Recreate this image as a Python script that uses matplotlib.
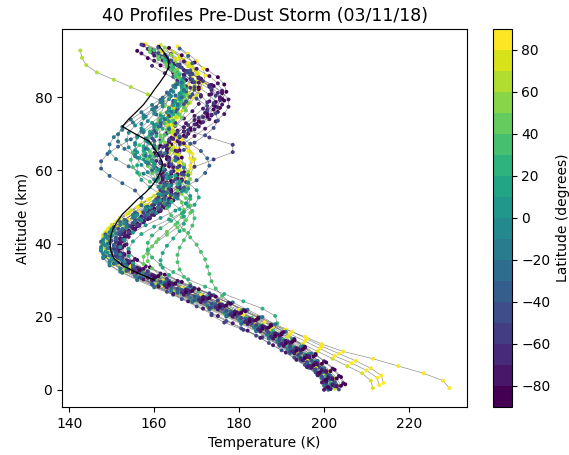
import numpy as np
import matplotlib
matplotlib.use("Agg")
import matplotlib.pyplot as plt
from matplotlib.colors import Normalize

# latitude of each retrieved profile (degrees)
latitudes = [88, 84, 81, 78, 75, 72,
             63, 55,
             48, 42, 36, 30, 24,
             18, 13, 8, 3, -2,
             -7, -12, -17, -22, -27, -32,
             -38, -42, -46, -50, -54, -58,
             -67, -70, -72, -74, -76, -78, -80, -82, -84, -86]

# altitude of the lowest retrieved level of each profile (km)
bottom_alt = [0.5, 1.9, 1.3, 0.5, 1.1, 0.3,
              0.8, 1.6,
              0.4, 1.2, 0.9, 1.7, 0.2,
              1.4, 0.6, 1.8, 1.0, 0.3,
              1.5, 0.7, 1.1, 0.0, 1.9, 0.5,
              1.3, 0.8, 0.1, 1.6, 1.0, 0.4,
              1.2, 0.6, 1.8, 0.2, 1.4, 0.9, 0.0, 1.5, 0.7, 1.1]

# temperature (K) every 2 km upwards from the lowest level, one list per profile
temps = [
    # yellow, northern
    [229.5, 228, 223.5, 217.5, 211.5, 204.5, 199.5, 195.5, 191, 186, 181, 176, 171, 166.5, 162, 158,
     154.5, 151.5, 149.5, 148.5, 148.5, 149.5, 151.5, 154, 156.5, 159, 161.5, 164, 166, 167.5, 168.5,
     169, 169, 168, 166.5, 165, 164, 164, 165, 166.5, 168.5, 170, 171, 170.5, 168.5, 165.5, 162, 158],
    [214, 213.5, 211, 207.5, 203.5, 199.5, 196, 192.5, 188.5, 184.5, 180, 175.5, 171, 166.5, 162, 158,
     154.5, 151.5, 149.5, 148, 148, 149, 151, 153.5, 156, 158.5, 161, 163, 164.5, 165.5, 166,
     166, 165.5, 165, 164.5, 164.5, 165, 166, 167.5, 169, 170.5, 171.5, 172, 171.5, 170, 168, 165.5],
    [213, 212.5, 210, 206.5, 202.5, 199, 195.5, 192, 188, 184, 179.5, 175, 170.5, 166, 161.5, 157.5,
     154, 151, 149, 148, 148, 149.5, 152, 155, 158, 161, 163.5, 165.5, 167, 168, 168.5,
     168.5, 168, 167, 165.5, 164, 163, 163, 163.5, 165, 166.5, 168, 169, 169, 168, 166, 163.5],
    [211.5, 211, 209, 205.5, 202, 198.5, 195, 191.5, 187.5, 183.5, 179, 174.5, 170, 165.5, 161, 157,
     153.5, 150.5, 148.5, 147.5, 147.5, 148.5, 150.5, 153, 155.5, 158, 160.5, 162.5, 164, 165, 165.5,
     165.5, 165, 164.5, 164, 164, 164.5, 165.5, 167, 168.5, 170, 171, 171, 170, 168, 165, 161.5, 157.5],
    [203.5, 202.5, 201, 199, 197, 194.5, 192, 189, 186, 182.5, 178.5, 174.5, 170.5, 166, 161.5, 157.5,
     154, 151, 149, 148, 148, 148.5, 150, 152, 154.5, 157, 160, 163, 166, 168.5, 169.5,
     169.5, 168.5, 167, 165.5, 164, 163.5, 163.5, 164.5, 166, 168, 169.5, 170.5, 170, 168.5, 166],
    [202.5, 201.5, 200, 198, 196, 193.5, 191, 188, 185, 181.5, 177.5, 173.5, 169.5, 165, 160.5, 156.5,
     153, 150.5, 148.5, 147.5, 147.5, 148, 149.5, 151.5, 154, 156.5, 159, 161.5, 163.5, 165, 166,
     166, 165.5, 164.5, 163.5, 163, 163, 163.5, 164.5, 166, 167.5, 169, 170, 170, 169, 167, 164.5, 161.5],
    # light green
    [201, 200, 198.5, 196.5, 194.5, 192, 189.5, 187, 184, 180.5, 176.5, 172.5, 168.5, 164.5, 160.5, 156.5,
     153, 150.5, 149, 148.5, 149, 150.5, 153, 156, 159, 162, 164.5, 166, 166.5, 166, 165,
     164, 163.5, 163.5, 164, 164.5, 165, 165, 164, 162, 158.5, 154.5, 150.5, 146.5, 144, 143, 142.6],
    [202, 201, 199.5, 197.5, 195.5, 193, 190.5, 188, 185, 181.5, 178, 174, 170, 166, 162, 158,
     155, 152.5, 151, 150.5, 151, 152.5, 155, 158, 161, 164, 166.5, 168, 168.5, 168, 167,
     165.5, 164, 162.5, 161.5, 161, 161, 161.5, 162.5, 163.5, 164.5, 165, 165.5, 165.5, 165, 164, 162.5],
    # green
    [201.5, 200.5, 199, 197, 195, 192.5, 190, 187.5, 184.5, 181, 177.5, 173.5, 169.5, 166, 163, 160.5,
     158.5, 157.5, 157.5, 158.5, 160.5, 163, 165.5, 167.5, 168.5, 168.5, 167.5, 165.5, 163, 161, 159.5,
     159, 159.5, 160.5, 162, 163.5, 165, 166.5, 167.5, 168, 168, 167.5, 166.5, 165, 163, 161, 159],
    [202.5, 201.5, 200, 198, 196, 194, 191.5, 189, 186, 183, 179.5, 176, 172, 168, 164.5, 161.5,
     159.5, 158.5, 158.5, 159.5, 161, 163, 165, 166.5, 167, 166.5, 165, 163, 161, 159.5, 158.5,
     158.5, 159, 160, 161.5, 163, 164.5, 166, 167, 167.5, 167.5, 167, 166, 164.5, 163, 161, 159],
    [201, 200, 198.5, 196.5, 194.5, 192.5, 190, 187.5, 185, 182, 179, 176, 173, 170.5, 168.5, 167,
     166, 165.5, 165.5, 166, 167, 168, 169, 169.5, 169, 167.5, 165, 162, 159, 156.5, 155,
     154.5, 155, 156.5, 158.5, 160.5, 162.5, 164, 165.5, 166.5, 167, 167, 166.5, 165.5, 164, 162, 160],
    [202, 201, 199.5, 197.5, 195.5, 193, 190.5, 188, 185.5, 183, 180.5, 178, 176, 174.5, 173.5, 173,
     172.5, 172, 171, 170, 168.5, 167, 165.5, 164, 163, 162.5, 162, 161.5, 161, 160.5, 160,
     160, 160.5, 161.5, 162.5, 163.5, 164.5, 165.5, 166, 166.5, 166.5, 166, 165, 164, 162.5, 161],
    [201.5, 200.5, 199, 197, 195, 193, 191, 189, 188, 189, 188.5, 185.5, 181, 176.5, 172, 168,
     164.5, 161.5, 159.5, 158.5, 158.5, 159.5, 161.5, 164, 166.5, 168, 168.5, 167.5, 165.5, 163, 160.5,
     158.5, 157.5, 157.5, 158, 159.5, 161, 163, 164.5, 166, 167, 167.5, 167, 166, 164.5, 162.5],
    # teal-green, equatorial
    [202, 201, 199.5, 197.5, 195.5, 193, 190.5, 188, 185, 182, 179, 176, 172.5, 169, 166, 163.5,
     162, 161.5, 162, 163, 164.5, 166, 167, 167, 166, 164, 161.5, 159, 157, 156, 156,
     156.5, 157.5, 159, 160.5, 162, 163.5, 164.5, 165.5, 166, 166.5, 166.5],
    [200.5, 200, 198.5, 196.5, 194.5, 192, 189.5, 187, 184, 180.5, 177, 173.5, 170, 166.5, 163, 160,
     157, 155, 154, 154, 155, 157, 160, 163.5, 167, 169.5, 170.5, 170, 168, 165, 162,
     159.5, 158, 157.5, 158, 159, 160.5, 162, 163.5, 165, 166, 166.5, 166.5],
    [201.5, 200.5, 199.5, 198, 196.5, 194.5, 192.5, 190.5, 188, 185, 181.5, 177.5, 173, 168, 163, 158,
     153, 150, 148.5, 148, 148.5, 150, 153, 156, 159, 161.5, 163, 163.5, 163, 161.5, 160,
     159, 158.5, 158.5, 159, 160, 161.5, 163, 164.5, 166, 167],
    [202.5, 201.5, 200, 198, 196, 193.5, 191, 188.5, 185.5, 182, 178.5, 174.5, 170.5, 166.5, 162, 158,
     155, 153, 152, 152, 153, 155, 158, 161.5, 165, 167.5, 168.5, 168, 166, 163, 160,
     157.5, 156, 155.5, 156, 157.5, 159.5, 161.5, 163.5, 165, 166, 166.5],
    [201, 200, 198.5, 196.5, 194.5, 192, 189.5, 187, 184, 180.5, 177, 173, 169, 164.5, 160, 156,
     152, 149.5, 148, 147.5, 148, 150, 153.5, 157, 160.5, 163.5, 165.5, 166.5, 166, 164, 161,
     158, 155.5, 154, 153.5, 154, 155.5, 157.5, 160, 162, 164],
    # teal-blue
    [202, 201, 199.5, 197.5, 195.5, 193, 190.5, 188, 185, 181.5, 178, 174, 170, 166, 161.5, 157.5,
     153.5, 150.5, 149, 148.5, 149, 150.5, 153, 155.5, 158, 160, 161, 161, 160, 158.5, 157,
     156, 155.5, 155.5, 156, 157, 158.5, 160, 162, 163.5, 164.5],
    [201.5, 201, 199.5, 197.5, 195.5, 193, 190.5, 188, 185, 181.5, 178, 174, 170, 165.5, 161, 157,
     153.5, 151, 149.5, 149, 149.5, 151, 153.5, 156.5, 159.5, 162.5, 165, 167, 168, 168, 167,
     165, 162.5, 160, 158, 157, 157, 158, 159.5, 161.5, 163.5, 165],
    [200, 199.5, 198, 196, 194, 191.5, 189, 186.5, 183.5, 180, 176.5, 172.5, 168.5, 164, 159.5, 155.5,
     152, 149.5, 148, 147.5, 148, 149.5, 152, 155, 158, 160.5, 162, 162, 160.5, 157.5, 154,
     151, 149.5, 149.5, 150.5, 152.5, 155, 157.5, 160, 162, 163.5, 164.5],
    [201, 200, 198.5, 196.5, 194.5, 192, 189.5, 187, 184, 180.5, 177, 173, 169, 164.5, 160, 156,
     152.5, 149.5, 148, 147.5, 148, 149.5, 152.5, 155.5, 158.5, 161, 162.5, 163, 162.5, 161, 159.5,
     158.5, 158, 158, 158.5, 159.5, 161, 162.5, 164, 165.5, 166.5, 167, 166.5],
    [202.5, 201.5, 200, 198.5, 197, 195, 193, 191, 188.5, 185.5, 182, 178.5, 174, 169, 163.5, 158.5,
     155, 152, 150, 149, 149, 150, 152, 155, 158, 161, 163, 164, 163.5, 161.5, 158.5,
     155.5, 153, 151.5, 151.5, 152.5, 154.5, 157, 159.5, 162, 164, 165.5],
    [201.5, 200.5, 199, 197, 195, 192.5, 190, 187.5, 184.5, 181, 177.5, 173.5, 169.5, 165.5, 161, 157,
     153.5, 150.5, 148.5, 147.5, 147.5, 148.5, 150.5, 153, 155.5, 157, 157, 155.5, 152.5, 149.5, 147.5,
     147.5, 149, 151.5, 154.5, 157.5, 160, 162, 163.5, 164.5, 165],
    # navy
    [202, 201, 199.5, 197.5, 195.5, 193, 190.5, 188, 185, 181.5, 178, 174.5, 170.5, 166.5, 162.5, 158.5,
     155, 152.5, 151, 150.5, 151, 152, 153.5, 155.5, 158, 161, 164, 167, 170, 172, 173,
     172.5, 171, 168.5, 166, 163.5, 161.5, 160.5, 160.5, 161.5, 163, 165, 167, 168.5, 169, 168, 166],
    [201, 200, 198, 195.5, 193, 190, 187, 184, 180.5, 177, 173.5, 170, 166.5, 163, 159.5, 156.5,
     154, 151.5, 150, 149.5, 150, 151.5, 154, 157, 160, 163, 165.5, 167, 167.5, 167, 165.5,
     163.5, 161.5, 160, 159.5, 160, 161.5, 163.5, 165.5, 167.5, 169, 169.5, 169, 167.5, 165.5, 163],
    [203.5, 202.5, 201, 199, 197, 194.5, 192, 189.5, 186.5, 183, 179.5, 176, 172, 168, 164, 160,
     156.5, 153.5, 151.5, 150, 149.5, 150, 151.5, 153.5, 156, 158.5, 160.5, 162, 163, 163, 162.5,
     161.5, 160.5, 160, 160, 160.5, 161.5, 163, 165, 167, 168.5, 169.5, 169.5, 168.5, 166.5, 164, 161],
    [200.5, 199.5, 198, 196, 194, 192, 189.5, 187, 184, 180.5, 177, 173.5, 169.5, 165.5, 161.5, 158,
     155, 152.5, 151, 150.5, 151, 152.5, 155, 158, 161, 163.5, 165, 165.5, 165, 164, 164,
     165, 167, 169.5, 172, 174, 175, 174.5, 172.5, 170, 167.5, 165.5, 164.5, 164, 163.5, 162.5, 161],
    [202.5, 201.5, 200, 198, 196, 193.5, 191, 188.5, 185.5, 182, 178.5, 175, 171, 167, 163, 159,
     155.5, 153, 151.5, 151.5, 152.5, 154, 156, 158, 160, 161.5, 162.5, 163.5, 164.5, 166.5, 169.5,
     174, 178.5, 178.5, 173, 168, 165, 163.5, 163.5, 164.5, 166, 167.5, 168.5, 168, 166, 163],
    [201.5, 200.5, 199, 197, 194.5, 192, 189.5, 185.5, 181, 176.5, 173.5, 173, 175, 173, 168.5, 163,
     158.5, 155, 152.5, 151, 151, 152, 153.5, 155.5, 157.5, 159.5, 161, 162, 162.5, 162.5, 162,
     161.5, 161.5, 162, 163.5, 165.5, 168, 170.5, 172.5, 174, 174.5, 173.5, 171.5, 169, 166, 163, 160, 157],
    # purple, southern
    [203, 202, 200.5, 198.5, 196.5, 194, 191.5, 189, 186, 183, 179.5, 176, 172, 168, 164, 160,
     156.5, 154, 152.5, 152, 152.5, 154, 156.5, 159, 161.5, 163.5, 165, 166, 166.5, 166.5, 166,
     165.5, 165.5, 166, 167.5, 169.5, 171.5, 173.5, 175, 175.5, 175, 173, 170.5, 167.5, 164.5, 161.5, 158.5],
    [200.5, 200, 198.5, 196.5, 194.5, 192.5, 190, 187.5, 184.5, 181.5, 178, 174.5, 170.5, 166.5, 162.5, 158.5,
     155, 152.5, 151, 150.5, 151, 152.5, 154.5, 156.5, 158.5, 160, 161, 161.5, 161.5, 161, 160.5,
     160.5, 161, 162.5, 164.5, 167, 169.5, 171.5, 172.5, 172.5, 171, 168.5, 165.5, 162.5, 159.5],
    [204.5, 203.5, 202, 200, 198, 195.5, 193, 190.5, 187.5, 184.5, 181, 177.5, 173.5, 169.5, 165.5, 161.5,
     158, 155.5, 154, 153.5, 154, 155.5, 157.5, 160, 162.5, 164.5, 165.5, 166, 165.5, 164.5, 163.5,
     163, 163, 163.5, 165, 167, 169.5, 172, 174, 175.5, 176, 175, 173, 170, 167, 164, 161],
    [201.5, 200.5, 198.5, 196, 193.5, 191, 188, 185, 182, 178.5, 175, 171.5, 168, 164.5, 161, 157.5,
     155, 153, 151.5, 151, 151.5, 153, 155, 157.5, 160, 162, 163.5, 164, 164, 163.5, 162.5,
     161.5, 161, 161, 161.5, 163, 165, 167, 169, 170.5, 171, 170.5, 169, 167, 164.5, 162, 159.5, 157.5],
    [202, 201, 199.5, 198, 196, 193.5, 191, 188.5, 185.5, 182.5, 179, 175.5, 171.5, 167.5, 163.5, 159.5,
     156, 153.5, 152, 151.5, 152, 153, 155, 157, 159, 160.5, 161.5, 162, 162, 162, 162.5,
     163.5, 165, 167, 169.5, 172, 174.5, 176.5, 177.5, 177.5, 176, 173.5, 170.5, 167, 163.5, 160],
    [203, 202, 200.5, 198.5, 196.5, 194.5, 192, 189.5, 186.5, 183.5, 180, 176.5, 172.5, 168.5, 164.5, 160.5,
     157, 154.5, 153, 152.5, 153, 154.5, 156.5, 159, 161.5, 163.5, 165, 166, 166, 165.5, 164.5,
     163.5, 163, 163, 164, 165.5, 167.5, 169.5, 171.5, 173, 173.5, 173, 171, 168.5, 165.5, 162.5, 159.5],
    [200, 199.5, 198.5, 197, 195, 193, 190.5, 188, 185, 182, 178.5, 175, 171, 167, 163, 159.5,
     156, 153.5, 152, 151.5, 152, 153.5, 155.5, 157.5, 159.5, 161, 162, 162.5, 162.5, 162, 161.5,
     161.5, 162, 163.5, 165.5, 168, 170.5, 173, 175, 176, 175.5, 173.5, 170.5, 167, 163.5, 160, 157],
    [205, 204, 202.5, 200.5, 198, 195.5, 193, 190, 187.5, 184.5, 181.5, 178, 174.5, 170.5, 166.5, 162.5,
     159, 156, 154, 153, 153, 154, 156, 158, 160, 162, 164, 165.5, 166.5, 167, 167,
     166.5, 166, 166, 167, 168.5, 170.5, 172.5, 174.5, 176, 177, 176.5, 175, 172.5, 169.5, 166.5, 163.5],
    [201, 200.5, 199, 197.5, 195.5, 193.5, 191, 188.5, 185.5, 182.5, 179, 175.5, 171.5, 167.5, 163.5, 160,
     156.5, 154, 152.5, 152, 152.5, 154, 156, 158.5, 161, 163, 164, 164, 163, 161.5, 160,
     159.5, 160, 161.5, 164, 167, 170, 172.5, 174, 174.5, 173, 170.5, 167.5, 164.5, 161.5, 158.5, 156],
    [204, 203, 201.5, 199.5, 197.5, 195, 192.5, 190, 187, 184, 180.5, 177, 173, 169, 165, 161,
     157.5, 155, 153, 152, 152, 153, 155, 157, 159, 161, 162.5, 163.5, 164, 164, 163.5,
     163, 163, 164, 166, 168.5, 171, 173.5, 175.5, 176.5, 176, 174, 171, 168, 165, 162, 159],
]

# darker reference curve, 30-94 km
ref_alt = [30, 32, 34, 36, 38, 40, 42, 44, 46, 48, 50, 52, 54, 56, 58, 60, 62, 64, 66,
           68, 70, 72, 74, 76, 78, 80, 82, 84, 86, 88, 90, 92, 94]
ref_T = [160, 156, 152.5, 150.5, 149.8, 149.6, 149.8, 150.3, 151.3, 152.5, 154.3, 156, 158,
         159.6, 160.8, 161.6, 162, 161.2, 160, 158.8, 155.5, 152.5, 154, 155.8, 157.5, 158.8,
         160, 161.3, 162.5, 163.3, 163.5, 162.5, 161.2]

cmap = plt.get_cmap('viridis', 18)
norm = Normalize(vmin=-90, vmax=90)

fig = plt.figure(figsize=(5.69, 4.55), dpi=100)
ax = fig.add_axes([0.109, 0.1055, 0.712, 0.831])
cax = fig.add_axes([0.866, 0.1055, 0.0334, 0.831])

n = len(latitudes)
for i, (lat, z0, t) in enumerate(zip(latitudes, bottom_alt, temps)):
    t = np.array(t)
    alt = z0 + np.arange(len(t)) * 2.0
    ax.plot(t, alt, color='0.4', lw=0.5, alpha=0.7, zorder=1)
    low = alt <= 33
    # southern profiles on top near the ground, low-latitude ones on top aloft
    ax.scatter(t[low], alt[low], c=[lat] * low.sum(), cmap=cmap, norm=norm,
               s=8, linewidths=0, zorder=2 + i / n)
    ax.scatter(t[~low], alt[~low], c=[lat] * (~low).sum(), cmap=cmap, norm=norm,
               s=8, linewidths=0, zorder=2 + (1 - abs(lat + 8) / 100))

ax.plot(ref_T, ref_alt, color='k', lw=0.9, zorder=4)

ax.set_xlim(138.3, 233.7)
ax.set_ylim(-4.7, 98.7)
ax.set_title('40 Profiles Pre-Dust Storm (03/11/18)', fontsize=12.5)
ax.set_xlabel('Temperature (K)')
ax.set_ylabel('Altitude (km)')

sm = plt.cm.ScalarMappable(cmap=cmap, norm=norm)
cb = fig.colorbar(sm, cax=cax, ticks=np.arange(-80, 81, 20))
cb.set_label('Latitude (degrees)')

fig.savefig('out.png', dpi=100)
